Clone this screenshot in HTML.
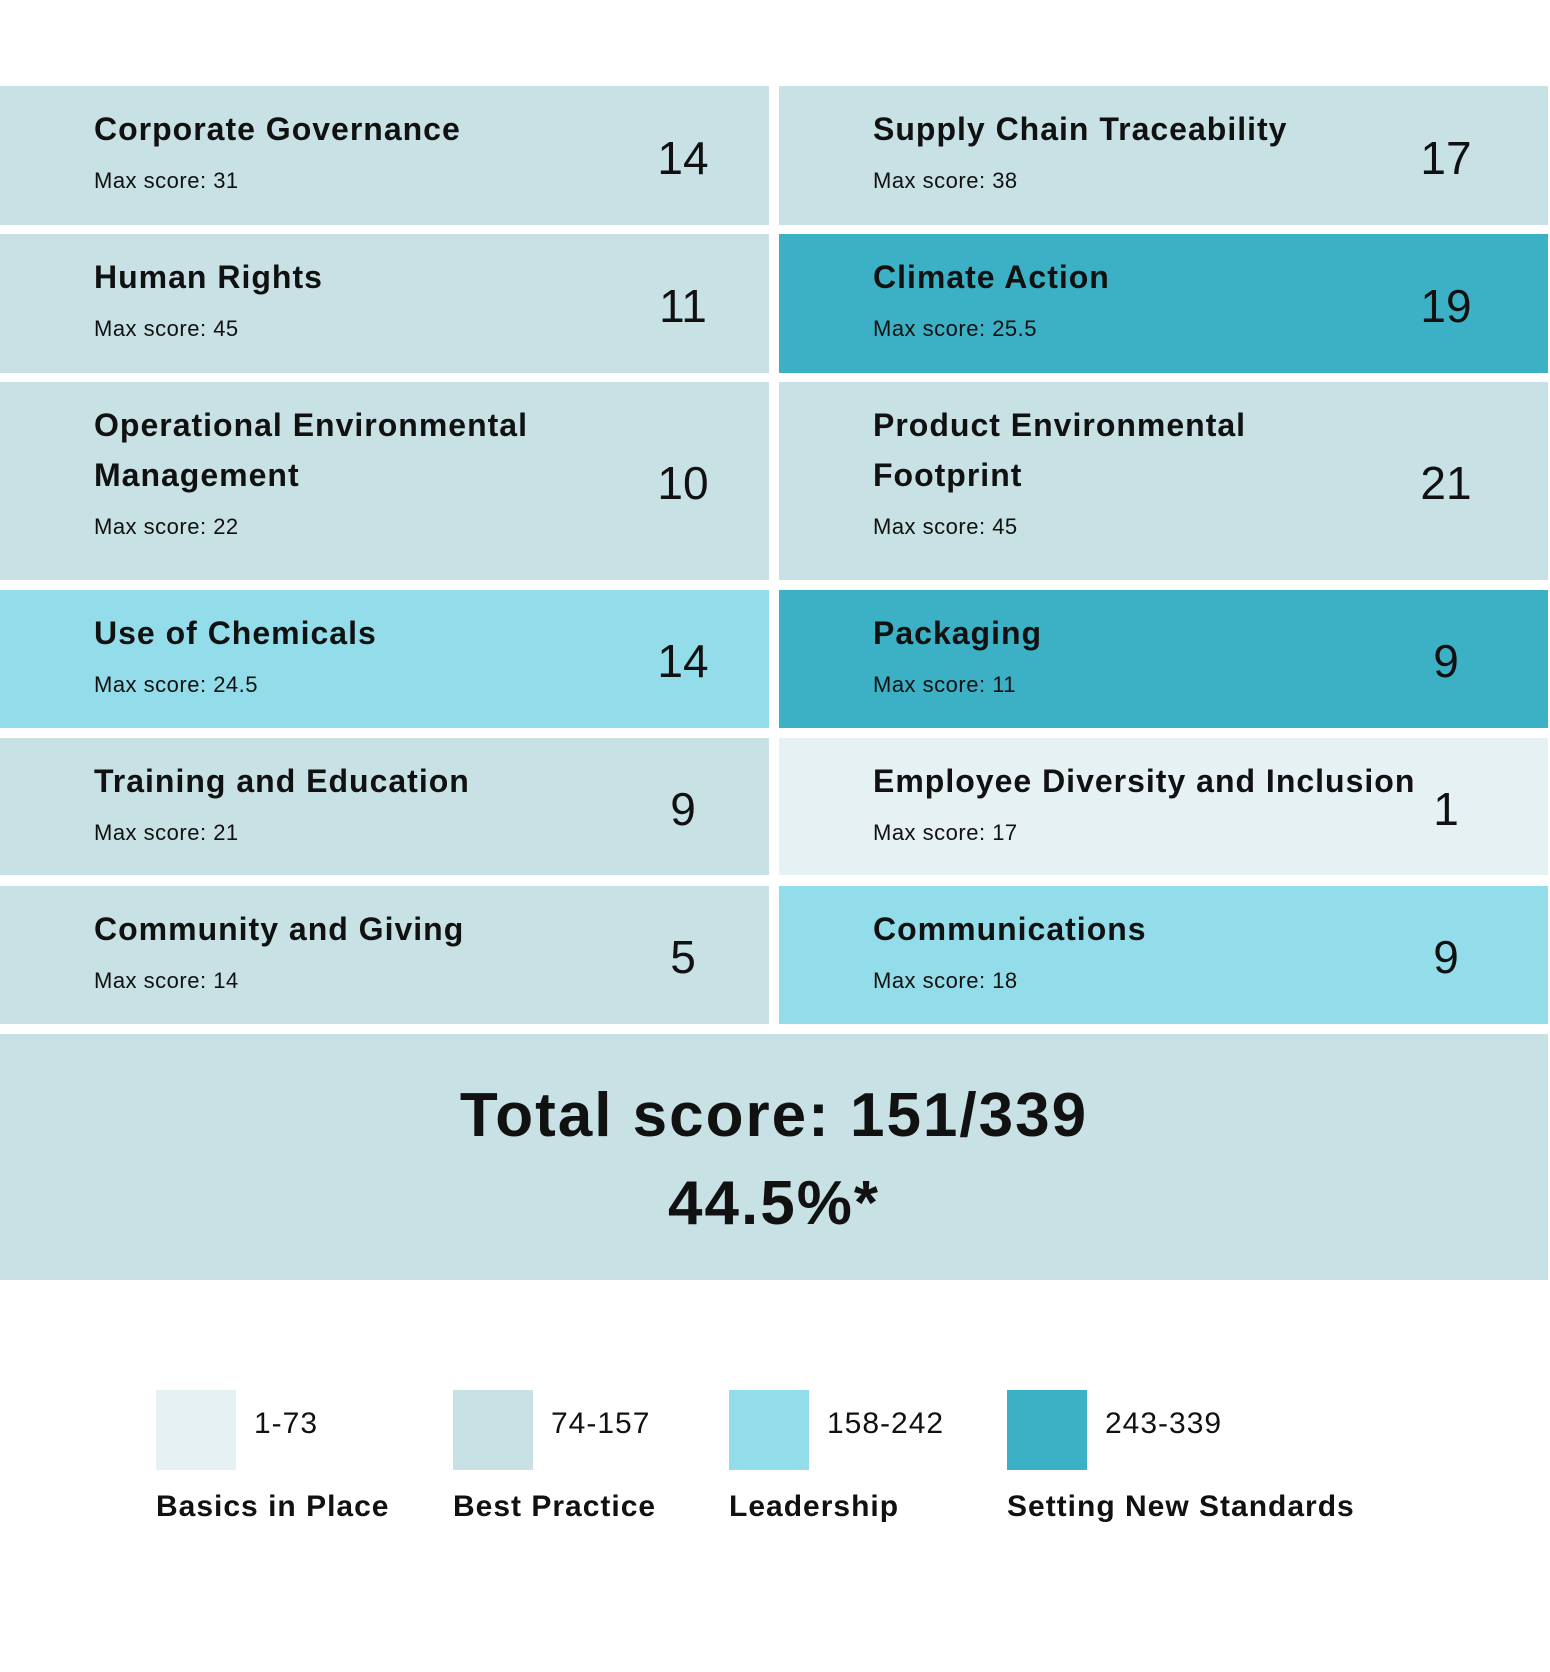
<!DOCTYPE html>
<html><head><meta charset="utf-8">
<style>
body{margin:0;width:1550px;height:1672px;background:#fff;position:relative;overflow:hidden;font-family:"Liberation Sans",sans-serif;color:#111}
.cell{position:absolute}
.t{position:absolute;left:94px;font-weight:bold;font-size:32px;letter-spacing:1px;line-height:50px}
.m{position:absolute;left:94px;font-size:22px;letter-spacing:0.5px}
.n{position:absolute;font-size:46px;width:120px;text-align:center;transform:translateY(-50%)}
.sw{position:absolute;width:80px;height:80px;top:1390px}
.rg{position:absolute;top:1407px;font-size:30px;letter-spacing:1px}
.lb{position:absolute;top:1490px;font-size:30px;font-weight:bold;letter-spacing:1px}
</style></head><body>
<div id="grid"></div>
<div class="cell" style="left:0;top:1034px;width:1548px;height:246px;background:#c7e1e5">
<div style="position:absolute;left:0;width:1548px;top:46px;text-align:center;font-size:62px;font-weight:bold;letter-spacing:2px">Total score: 151/339</div>
<div style="position:absolute;left:0;width:1548px;top:134px;text-align:center;font-size:62px;font-weight:bold;letter-spacing:2px">44.5%*</div>
</div>
<div id="legend"></div>
<script>
const names=[["Corporate Governance"],["Supply Chain Traceability"],["Human Rights"],["Climate Action"],["Operational Environmental","Management"],["Product Environmental","Footprint"],["Use of Chemicals"],["Packaging"],["Training and Education"],["Employee Diversity and Inclusion"],["Community and Giving"],["Communications"]];
const maxScores=["31","38","45","25.5","22","45","24.5","11","21","17","14","18"];
const scores=[14,17,11,19,10,21,14,9,9,1,5,9];
const levels=[1,1,1,3,1,1,2,3,1,0,1,2];
const colors=["#e6f1f4","#c7e1e5","#92dde9","#3cb0c4"];
const rowTops=[86,234,382,590,738,886];
const rowBottoms=[225,373,580,728,875,1024];
const legendRanges=["1-73","74-157","158-242","243-339"];
const legendLabels=["Basics in Place","Best Practice","Leadership","Setting New Standards"];
const legendX=[156,453,729,1007];
const grid=document.getElementById('grid');
names.forEach((nm,i)=>{
  const r=Math.floor(i/2),c=i%2;
  const top=rowTops[r],h=rowBottoms[r]-top;
  const d=document.createElement('div');
  d.className='cell';
  
  
  d.style.cssText=`left:${c?779:0}px;top:${top}px;width:${c?769:769}px;height:${h}px;background:${colors[levels[i]]}`;
  const t=document.createElement('div');t.className='t';
  
  
  t.style.top='18px';t.innerHTML=nm.join('<br>');d.appendChild(t);
  const m=document.createElement('div');m.className='m';
  
  
  m.style.top=(18+nm.length*50+14)+'px';m.textContent='Max score: '+maxScores[i];d.appendChild(m);
  const n=document.createElement('div');n.className='n';
  
  
  n.style.left=(c?607:623)+'px';n.style.top=(h/2+2)+'px';n.textContent=scores[i];d.appendChild(n);
  grid.appendChild(d);
});
const lg=document.getElementById('legend');
legendRanges.forEach((rg,i)=>{
  const s=document.createElement('div');s.className='sw';
  
  
  s.style.left=legendX[i]+'px';s.style.background=colors[i];lg.appendChild(s);
  const a=document.createElement('div');a.className='rg';
  
  
  a.style.left=(legendX[i]+98)+'px';a.textContent=rg;lg.appendChild(a);
  const b=document.createElement('div');b.className='lb';
  
  
  b.style.left=legendX[i]+'px';b.textContent=legendLabels[i];lg.appendChild(b);
});
</script>
</body></html>
